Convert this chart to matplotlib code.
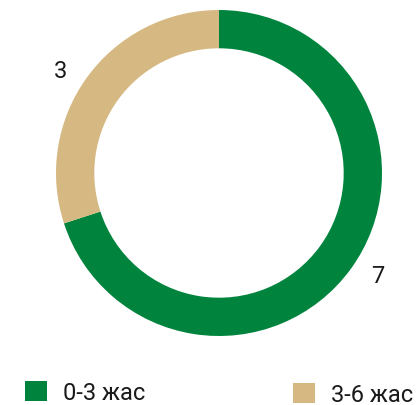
import matplotlib.pyplot as plt
import numpy as np
from matplotlib.patches import Patch

plt.rcParams['font.family'] = ['Roboto', 'DejaVu Sans']

# children count by age group
groups = ['0-3 жас', '3-6 жас']
counts = [7, 3]
colors = ['#00843d', '#d6b982']

W, H = 417, 406
fig = plt.figure(figsize=(W / 100, H / 100), dpi=100)

# donut centred at (219, 174) px, outer radius 163 px
cx, cy, r = 219, 174, 163
ax = fig.add_axes([(cx - r) / W, (H - cy - r) / H, 2 * r / W, 2 * r / H])
wedges, _ = ax.pie(counts, colors=colors, startangle=90, counterclock=False,
                   radius=1.0, wedgeprops=dict(width=0.235, linewidth=0))
ax.set_xlim(-1, 1)
ax.set_ylim(-1, 1)
ax.axis('off')

# value labels outside each wedge, nudged a little anticlockwise
for w, v in zip(wedges, counts):
    ang = np.deg2rad((w.theta1 + w.theta2) / 2 + 3)
    d = 1.16
    ax.text(d * np.cos(ang), d * np.sin(ang), str(v), ha='center', va='center',
            fontsize=17, color='#1a1a1a', clip_on=False)

# one legend per group, the second sits a few pixels lower
legend_x = [25, 293]
legend_y = [1, -1]
for g, c, lx, ly in zip(groups, colors, legend_x, legend_y):
    fig.legend([Patch(facecolor=c, edgecolor='none')], [g], loc='lower left',
               bbox_to_anchor=(lx / W, ly / H), frameon=False, fontsize=17,
               handlelength=0.93, handleheight=0.9, handletextpad=0.68,
               borderpad=0, borderaxespad=0, labelcolor='#1a1a1a')

fig.savefig('out.png', dpi=100)
